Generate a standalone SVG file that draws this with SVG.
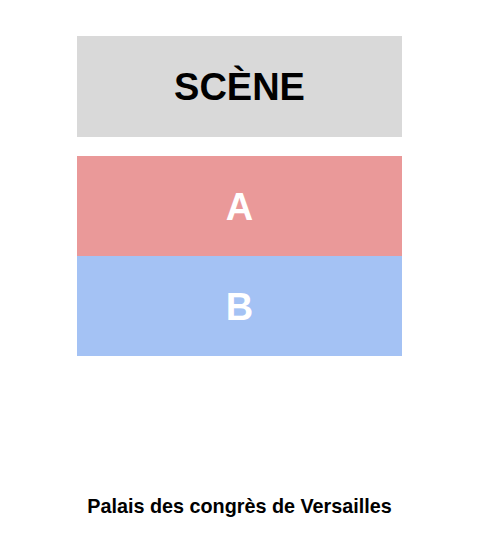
<svg xmlns="http://www.w3.org/2000/svg" width="477" height="552" viewBox="0 0 477 552">
<style>
text{font-family:"Liberation Sans",Arial,sans-serif;font-weight:bold;text-anchor:middle}
.big{font-size:38px}
</style>
<rect width="477" height="552" fill="#fff"/>
<g id="scene"><rect x="77" y="36" width="325" height="101" fill="#d9d9d9"/><text class="big" x="239.5" y="100" fill="#000">SCÈNE</text></g>
<g id="A"><rect x="77" y="156" width="325" height="100" fill="#ea9999"/><text class="big" x="239.5" y="220" fill="#fff">A</text></g>
<g id="B"><rect x="77" y="256" width="325" height="100" fill="#a4c2f4"/><text class="big" x="239.5" y="319.5" fill="#fff">B</text></g>
<g id="connectors"/>
<text x="239.5" y="513" font-size="19.8" fill="#000">Palais des congrès de Versailles</text>
</svg>
